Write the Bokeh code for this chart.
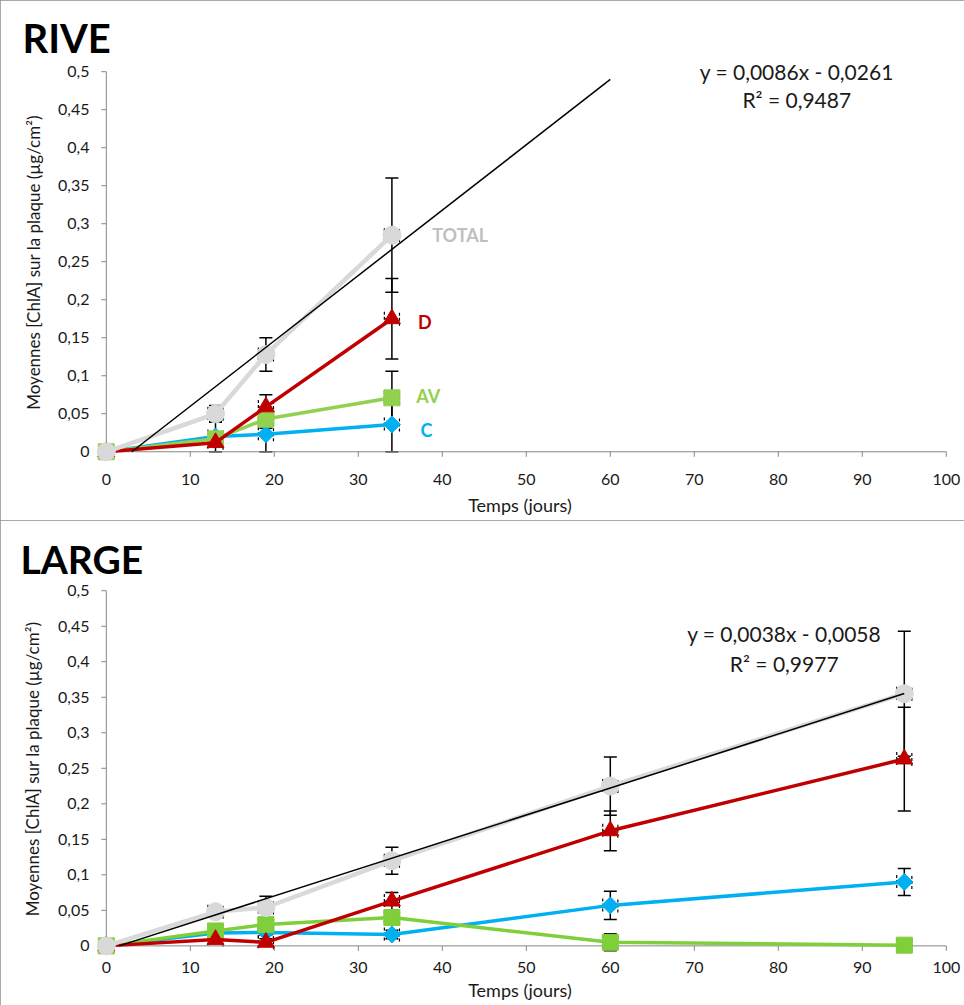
import math
from bokeh.plotting import figure
from bokeh.models import (Range1d, FixedTicker, CustomJSTickFormatter, Label,
                          Whisker, TeeHead, ColumnDataSource)
from bokeh.layouts import column
from bokeh.embed import file_html
from bokeh.resources import INLINE

FONT = "Lato"

# ---------------- data : RIVE ----------------
rive_days = [0, 13, 19, 34]
rive_total = [0, 0.050, 0.128, 0.285]
rive_total_err = [0, 0.011, 0.022, 0.075]
rive_d = [0, 0.012, 0.059, 0.175]
rive_d_err = [0, 0.005, 0.016, 0.053]
rive_av = [0, 0.017, 0.043, 0.071]
rive_av_err = [0, 0.008, 0.012, 0.035]
rive_c = [0, 0.020, 0.023, 0.036]
rive_c_err = [0, 0.020, 0.023, 0.036]
rive_slope, rive_intercept = 0.0086, -0.0261
rive_trend_end = 60
rive_eq = "y = 0,0086x - 0,0261"
rive_r2 = "R² = 0,9487"

# ---------------- data : LARGE ----------------
large_days = [0, 13, 19, 34, 60, 95]
large_total = [0, 0.048, 0.054, 0.120, 0.225, 0.355]
large_total_err = [0, 0.006, 0.016, 0.019, 0.041, 0.088]
large_d = [0, 0.009, 0.005, 0.063, 0.162, 0.263]
large_d_err = [0, 0.004, 0.005, 0.012, 0.028, 0.073]
large_av = [0, 0.021, 0.030, 0.040, 0.005, 0.001]
large_av_err = [0, 0.004, 0.005, 0.006, 0.012, 0.001]
large_c = [0, 0.018, 0.019, 0.016, 0.057, 0.090]
large_c_err = [0, 0.003, 0.004, 0.006, 0.020, 0.019]
large_slope, large_intercept = 0.0038, -0.0058
large_trend_end = 95
large_eq = "y = 0,0038x - 0,0058"
large_r2 = "R² = 0,9977"

series_names = ["C", "AV", "D", "TOTAL"]
x_ticks = [0, 10, 20, 30, 40, 50, 60, 70, 80, 90, 100]
y_ticks = [0, 0.05, 0.1, 0.15, 0.2, 0.25, 0.3, 0.35, 0.4, 0.45, 0.5]
x_err = 0.9

GRAY_AX = "#868686"
TXT = "#1a1a1a"
STY = {
    "C": dict(color="#00B0F0", marker="square", size=12, angle=math.pi / 4, lw=3.5),
    "AV": dict(color="#92D050", marker="square", size=16, angle=0, lw=3.5),
    "D": dict(color="#C00000", marker="triangle", size=17, angle=0, lw=3.5),
    "TOTAL": dict(color="#D9D9D9", marker="circle", size=18, angle=0, lw=4.5),
}

X_LO, X_HI = -2, 100.5
Y_LO, Y_HI = -0.022, 0.52
W = 964


def make_chart(title, title_size, title_offset, days, vals, errs, slope, intercept,
               trend_end, eq, r2, eq_pos, r2_pos, height, mb_left, mb_right,
               mb_top, mb_bottom, xtick_standoff, xlab_standoff, ylab_standoff,
               green, labels=None):
    p = figure(width=W, height=height, x_range=Range1d(X_LO, X_HI),
               y_range=Range1d(Y_LO, Y_HI), output_backend="svg",
               toolbar_location=None, min_border_left=mb_left,
               min_border_right=mb_right, min_border_top=mb_top,
               min_border_bottom=mb_bottom,
               background_fill_color="white", border_fill_color="white",
               styles={"outline": "1px solid #8c8c8c", "outline-offset": "-1px"})
    p.outline_line_color = None
    p.xgrid.visible = False
    p.ygrid.visible = False

    # title
    p.title.text = title
    p.title.text_font = FONT
    p.title.text_font_size = title_size
    p.title.text_font_style = "bold"
    p.title.text_color = "black"
    p.title.align = "left"
    p.title.offset = title_offset
    p.title.standoff = -10

    # px per data unit (for tick mark lengths)
    fw = W - mb_left - mb_right
    fh = height - mb_top - mb_bottom
    ppx = fw / (X_HI - X_LO)
    ppy = fh / (Y_HI - Y_LO)

    for ax in (p.xaxis[0], p.yaxis[0]):
        ax.axis_line_color = None
        ax.major_tick_line_color = None
        ax.minor_tick_line_color = None
        ax.major_tick_out = 0
        ax.major_tick_in = 0
        ax.major_label_text_font = FONT
        ax.major_label_text_font_size = "16px"
        ax.major_label_text_color = TXT
        ax.major_label_standoff = 0
        ax.axis_label_text_font = FONT
        ax.axis_label_text_font_style = "normal"
        ax.axis_label_text_color = TXT
    p.xaxis[0].major_label_standoff = xtick_standoff
    p.xaxis[0].ticker = FixedTicker(ticks=x_ticks)
    p.yaxis[0].ticker = FixedTicker(ticks=y_ticks)
    p.yaxis[0].formatter = CustomJSTickFormatter(
        code="return (Math.round(tick*100)/100).toString().replace('.', ',');")
    p.xaxis[0].axis_label = "Temps (jours)"
    p.xaxis[0].axis_label_text_font_size = "18px"
    p.xaxis[0].axis_label_standoff = xlab_standoff
    p.yaxis[0].axis_label = "Moyennes [ChlA] sur la plaque (µg/cm²)"
    p.yaxis[0].axis_label_text_font_size = "17px"
    p.yaxis[0].axis_label_standoff = ylab_standoff

    # Excel-style axis lines crossing at 0, with outside tick marks
    p.line([x_ticks[0], x_ticks[-1]], [0, 0], line_color=GRAY_AX, line_width=1)
    p.line([0, 0], [y_ticks[0], y_ticks[-1]], line_color=GRAY_AX, line_width=1)
    p.segment(x0=x_ticks, y0=[0] * len(x_ticks), x1=x_ticks,
              y1=[-5 / ppy] * len(x_ticks), line_color=GRAY_AX, line_width=1)
    p.segment(x0=[0] * len(y_ticks), y0=y_ticks, x1=[-5 / ppx] * len(y_ticks),
              y1=y_ticks, line_color=GRAY_AX, line_width=1)

    # vertical and horizontal error bars
    for name in series_names:
        xs, ys, es = [], [], []
        for x, y, e in zip(days, vals[name], errs[name]):
            if x > 0:
                xs.append(x); ys.append(y); es.append(e)
        src = ColumnDataSource(dict(
            x=xs, y=ys, lo=[y - e for y, e in zip(ys, es)],
            hi=[y + e for y, e in zip(ys, es)],
            xlo=[x - x_err for x in xs], xhi=[x + x_err for x in xs]))
        p.add_layout(Whisker(source=src, base="x", lower="lo", upper="hi",
                             dimension="height", line_color="black", line_width=1.5,
                             upper_head=TeeHead(size=13, line_color="black", line_width=1.5),
                             lower_head=TeeHead(size=13, line_color="black", line_width=1.5)))
        p.add_layout(Whisker(source=src, base="y", lower="xlo", upper="xhi",
                             dimension="width", line_color="black", line_width=1.2,
                             line_dash="3 2",
                             upper_head=TeeHead(size=14, line_color="black", line_width=1.2, line_dash="3 2"),
                             lower_head=TeeHead(size=14, line_color="black", line_width=1.2, line_dash="3 2")))

    for name in series_names:
        st = STY[name]
        col = green if name == "AV" else st["color"]
        p.line(days, vals[name], line_color=col, line_width=st["lw"])
        p.scatter(days, vals[name], marker=st["marker"], size=st["size"],
                  angle=st["angle"], fill_color=col, line_color=col)

    # linear trend line of TOTAL
    x0 = -intercept / slope
    tx = [x0, trend_end]
    p.line(tx, [slope * x + intercept for x in tx], line_color="black", line_width=1.5)

    p.add_layout(Label(x=eq_pos[0], y=eq_pos[1], text=eq, text_font=FONT,
                       text_font_size="21px", text_align="center",
                       text_baseline="middle", text_color=TXT))
    p.add_layout(Label(x=r2_pos[0], y=r2_pos[1], text=r2, text_font=FONT,
                       text_font_size="21px", text_align="center",
                       text_baseline="middle", text_color=TXT))

    if labels:
        for name, dx, dy in labels:
            col = "#BFBFBF" if name == "TOTAL" else (green if name == "AV" else STY[name]["color"])
            p.add_layout(Label(x=days[-1] + dx, y=vals[name][-1] + dy, text=name,
                               text_font=FONT, text_font_size="18px",
                               text_font_style="bold", text_align="left",
                               text_baseline="middle", text_color=col))
    return p


rive_vals = {"TOTAL": rive_total, "D": rive_d, "AV": rive_av, "C": rive_c}
rive_errs = {"TOTAL": rive_total_err, "D": rive_d_err, "AV": rive_av_err, "C": rive_c_err}
large_vals = {"TOTAL": large_total, "D": large_d, "AV": large_av, "C": large_c}
large_errs = {"TOTAL": large_total_err, "D": large_d_err, "AV": large_av_err, "C": large_c_err}

p1 = make_chart("RIVE", "40px", -67, rive_days, rive_vals, rive_errs,
                rive_slope, rive_intercept, rive_trend_end, rive_eq, rive_r2,
                (82.2, 0.50), (82.2, 0.463), 520, 86, 14, 56, 52, 5, 6, 11, "#92D050",
                labels=[("TOTAL", 4.8, 0.0), ("D", 3.1, -0.004), ("AV", 2.9, 0.002), ("C", 3.4, -0.007)])

p2 = make_chart("LARGE", "39px", -69, large_days, large_vals, large_errs,
                large_slope, large_intercept, large_trend_end, large_eq, large_r2,
                (80.7, 0.44), (80.7, 0.398), 485, 89, 11, 56, 44, 0, 3, 12, "#7FCF3A")

layout = column(p1, p2, spacing=0)
open("out.html", "w").write(file_html(layout, INLINE))
